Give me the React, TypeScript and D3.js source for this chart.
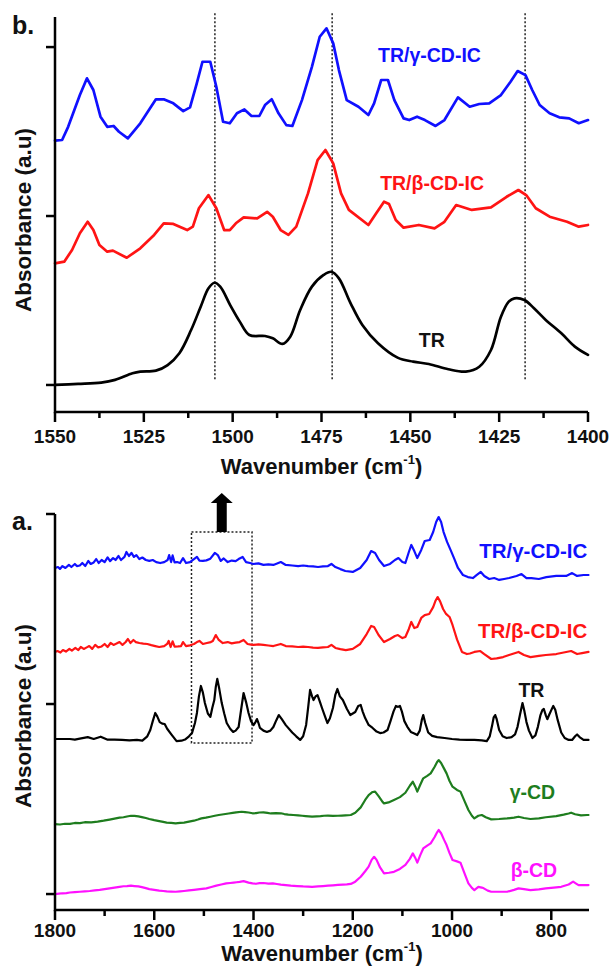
import React from 'react';
import * as d3 from 'd3';

const W = 611;
const H = 971;
const FONT = '"Liberation Sans", Arial, sans-serif';

// ---------- Panel b (1550-1400 cm-1) ----------
const bTicks = [1550, 1525, 1500, 1475, 1450, 1425, 1400];
const bMinor = [1537.5, 1512.5, 1487.5, 1462.5, 1437.5, 1412.5];
const bYTicks = [0, 1, 2];
const bDotted = [1505, 1472, 1417.7];

const bGamma: [number, number][] = [
  [1550, 1.446], [1548, 1.45], [1546.3, 1.528], [1543, 1.716], [1541, 1.815], [1539.2, 1.746],
  [1537.2, 1.588], [1535.3, 1.528], [1533.5, 1.533], [1532, 1.499], [1529.5, 1.46], [1526, 1.549],
  [1521.6, 1.691], [1519.4, 1.691], [1516.7, 1.667], [1513.9, 1.621], [1512, 1.643], [1510.1, 1.785],
  [1508.5, 1.913], [1506.3, 1.913], [1504.6, 1.765], [1502.7, 1.558], [1500.8, 1.549], [1498.8, 1.608],
  [1496.7, 1.631], [1494.7, 1.592], [1492.5, 1.592], [1490.9, 1.657], [1489, 1.691], [1487.1, 1.608],
  [1484.9, 1.538], [1483.2, 1.533], [1480.5, 1.686], [1477.7, 1.883], [1475.5, 2.061], [1473.6, 2.111],
  [1471.7, 2.022], [1470.1, 1.864], [1467.9, 1.686], [1464.6, 1.647], [1461.8, 1.598], [1460.2, 1.667],
  [1458.2, 1.805], [1456.3, 1.805], [1454.5, 1.686], [1451.9, 1.578], [1450.3, 1.568], [1448.1, 1.588],
  [1445.9, 1.568], [1442.9, 1.533], [1440.4, 1.568], [1436.6, 1.702], [1433.3, 1.647], [1430.6, 1.663],
  [1427.8, 1.667], [1424.5, 1.716], [1421.8, 1.795], [1419.8, 1.858], [1417.6, 1.834], [1415.7, 1.746],
  [1413.6, 1.657], [1410.8, 1.608], [1408.1, 1.584], [1405.3, 1.578], [1402.6, 1.549], [1400, 1.568],
];

const bBeta: [number, number][] = [
  [1550, 0.72], [1547.4, 0.73], [1545.2, 0.799], [1543, 0.898], [1540.8, 0.966], [1539.2, 0.917],
  [1537.5, 0.828], [1535.3, 0.789], [1533.7, 0.795], [1529.8, 0.753], [1526, 0.809], [1522.1, 0.888],
  [1519.4, 0.957], [1516.7, 0.953], [1512.8, 0.917], [1511.2, 0.937], [1509.5, 1.046], [1506.8, 1.124],
  [1504.6, 1.046], [1502.4, 0.917], [1500.8, 0.917], [1499.1, 0.957], [1496.9, 0.992], [1493.1, 0.986],
  [1490.3, 1.025], [1488.7, 0.996], [1486.5, 0.917], [1484.3, 0.888], [1482.1, 0.937], [1478.8, 1.134],
  [1476.1, 1.331], [1473.9, 1.391], [1471.7, 1.312], [1469.5, 1.134], [1467.3, 1.036], [1461.8, 0.947],
  [1459.6, 1.016], [1457.4, 1.085], [1456, 1.071], [1454.1, 0.976], [1451.9, 0.931], [1447.6, 0.947],
  [1443.2, 0.927], [1440.4, 0.966], [1437.1, 1.065], [1432.7, 1.036], [1427.3, 1.051], [1422.9, 1.114],
  [1419.6, 1.154], [1417.4, 1.124], [1414.7, 1.046], [1410.8, 0.996], [1405.9, 0.966], [1402.6, 0.937],
  [1400, 0.947],
];

const bTR: [number, number][] = [
  [1550, 0], [1543.5, 0.006], [1537, 0.014], [1533.1, 0.03], [1528.2, 0.069], [1526, 0.079],
  [1521.6, 0.085], [1518.3, 0.118], [1515, 0.188], [1511.7, 0.325], [1509, 0.463], [1506.8, 0.572],
  [1505.1, 0.605], [1503.5, 0.582], [1500.7, 0.473], [1498, 0.375], [1495.3, 0.296], [1490.9, 0.29],
  [1488.7, 0.276], [1486, 0.243], [1483.8, 0.286], [1481, 0.444], [1477.7, 0.582], [1474.4, 0.651],
  [1472.2, 0.67], [1470.1, 0.631], [1466.8, 0.483], [1463.5, 0.355], [1459.1, 0.247], [1453.6, 0.162],
  [1449.2, 0.138], [1444.8, 0.124], [1439.3, 0.093], [1434.4, 0.079], [1430.6, 0.108], [1427.3, 0.207],
  [1424.5, 0.404], [1422.3, 0.493], [1420.7, 0.513], [1417.9, 0.503], [1415.2, 0.454], [1411.9, 0.385],
  [1407.5, 0.306], [1403.7, 0.227], [1400, 0.178],
];

// ---------- Panel a (1800-725 cm-1) ----------
const aTicks = [1800, 1600, 1400, 1200, 1000, 800];
const aMinor = [1700, 1500, 1300, 1100, 900];
const aYTicks = [0, 1, 2];
const aBox = { from: 1525, to: 1403, top: 1.905, bottom: 0.795 };

const aGammaIC: [number, number][] = [
  [1800, 1.716], [1794, 1.721], [1790, 1.711], [1785, 1.726], [1779, 1.716], [1772, 1.732], [1767, 1.721],
  [1760, 1.737], [1756, 1.726], [1750, 1.729], [1745, 1.742], [1739, 1.726], [1733, 1.753], [1728, 1.737],
  [1722, 1.745], [1717, 1.763], [1712, 1.742], [1706, 1.758], [1700, 1.747], [1694, 1.772], [1689, 1.752],
  [1683, 1.768], [1678, 1.758], [1672, 1.779], [1667, 1.758], [1660, 1.774], [1656, 1.8], [1651, 1.779],
  [1646, 1.795], [1641, 1.774], [1636, 1.784], [1630, 1.763], [1624, 1.771], [1617, 1.758], [1610, 1.753],
  [1603, 1.758], [1596, 1.747], [1588, 1.742], [1580, 1.747], [1573, 1.758], [1570, 1.784], [1566, 1.747],
  [1563, 1.782], [1559, 1.745], [1554, 1.747], [1548, 1.742], [1542, 1.768], [1536, 1.742], [1528, 1.747],
  [1520, 1.763], [1514, 1.774], [1509, 1.755], [1502, 1.753], [1495, 1.756], [1487, 1.765], [1478, 1.795],
  [1472, 1.784], [1466, 1.753], [1460, 1.766], [1452, 1.747], [1444, 1.755], [1436, 1.752], [1430, 1.763],
  [1422, 1.774], [1415, 1.747], [1407, 1.742], [1400, 1.737], [1390, 1.74], [1380, 1.732], [1370, 1.735],
  [1360, 1.732], [1345, 1.747], [1335, 1.732], [1322, 1.729], [1310, 1.726], [1300, 1.729], [1290, 1.726],
  [1280, 1.724], [1270, 1.721], [1260, 1.724], [1250, 1.726], [1243, 1.737], [1235, 1.721], [1225, 1.71],
  [1215, 1.7], [1200, 1.695], [1185, 1.716], [1172, 1.758], [1163, 1.805], [1155, 1.795], [1147, 1.758],
  [1137, 1.726], [1125, 1.737], [1115, 1.758], [1108, 1.768], [1100, 1.747], [1094, 1.742], [1087, 1.8],
  [1082, 1.837], [1076, 1.805], [1070, 1.768], [1062, 1.811], [1055, 1.858], [1045, 1.863], [1038, 1.905],
  [1032, 1.958], [1027, 1.984], [1022, 1.958], [1017, 1.905], [1010, 1.853], [1003, 1.811], [996, 1.768],
  [988, 1.716], [978, 1.679], [968, 1.668], [958, 1.663], [950, 1.679], [942, 1.695], [935, 1.674],
  [925, 1.658], [915, 1.663], [905, 1.653], [895, 1.658], [885, 1.663], [870, 1.674], [860, 1.684],
  [850, 1.663], [840, 1.663], [825, 1.658], [810, 1.668], [790, 1.674], [770, 1.674], [758, 1.689],
  [748, 1.674], [735, 1.679], [725, 1.679],
];

const aBetaIC: [number, number][] = [
  [1800, 1.274], [1795, 1.279], [1789, 1.271], [1784, 1.284], [1778, 1.276], [1771, 1.29], [1766, 1.281],
  [1759, 1.295], [1753, 1.284], [1748, 1.3], [1742, 1.29], [1736, 1.298], [1731, 1.305], [1725, 1.29],
  [1719, 1.311], [1713, 1.298], [1706, 1.303], [1700, 1.316], [1694, 1.3], [1688, 1.321], [1682, 1.311],
  [1676, 1.318], [1670, 1.326], [1664, 1.311], [1658, 1.325], [1653, 1.342], [1648, 1.321], [1642, 1.337],
  [1637, 1.326], [1630, 1.321], [1622, 1.318], [1614, 1.316], [1606, 1.31], [1598, 1.305], [1590, 1.3],
  [1580, 1.305], [1574, 1.316], [1571, 1.332], [1567, 1.3], [1563, 1.33], [1559, 1.302], [1552, 1.303],
  [1546, 1.305], [1542, 1.326], [1536, 1.305], [1528, 1.309], [1520, 1.316], [1514, 1.326], [1509, 1.332],
  [1502, 1.316], [1494, 1.321], [1486, 1.326], [1482, 1.332], [1476, 1.363], [1470, 1.337], [1462, 1.321],
  [1452, 1.326], [1444, 1.319], [1436, 1.323], [1428, 1.326], [1420, 1.337], [1412, 1.316], [1405, 1.313],
  [1400, 1.311], [1390, 1.314], [1380, 1.311], [1370, 1.308], [1360, 1.305], [1345, 1.316], [1335, 1.305],
  [1322, 1.303], [1310, 1.3], [1300, 1.302], [1290, 1.3], [1280, 1.297], [1270, 1.295], [1260, 1.298],
  [1250, 1.3], [1243, 1.311], [1235, 1.295], [1225, 1.289], [1214, 1.284], [1200, 1.29], [1185, 1.316],
  [1172, 1.368], [1163, 1.411], [1157, 1.405], [1148, 1.363], [1137, 1.326], [1125, 1.342], [1115, 1.358],
  [1109, 1.363], [1100, 1.347], [1094, 1.353], [1087, 1.395], [1082, 1.432], [1076, 1.4], [1070, 1.405],
  [1062, 1.453], [1055, 1.468], [1046, 1.474], [1038, 1.51], [1033, 1.545], [1029, 1.563], [1024, 1.54],
  [1018, 1.5], [1012, 1.474], [1005, 1.458], [999, 1.416], [990, 1.34], [980, 1.274], [970, 1.263],
  [964, 1.266], [955, 1.274], [943, 1.279], [935, 1.263], [921, 1.237], [910, 1.24], [897, 1.247],
  [885, 1.258], [866, 1.274], [855, 1.258], [842, 1.247], [825, 1.253], [811, 1.258], [790, 1.263],
  [770, 1.274], [760, 1.279], [748, 1.263], [738, 1.268], [725, 1.274],
];

const aTR: [number, number][] = [
  [1800, 0.816], [1770, 0.816], [1760, 0.813], [1750, 0.818], [1734, 0.826], [1722, 0.816], [1708, 0.828],
  [1695, 0.813], [1680, 0.813], [1665, 0.811], [1650, 0.809], [1635, 0.811], [1624, 0.807], [1614, 0.83],
  [1608, 0.863], [1603, 0.91], [1598, 0.953], [1594, 0.935], [1589, 0.905], [1584, 0.897], [1579, 0.895],
  [1574, 0.87], [1566, 0.842], [1555, 0.805], [1545, 0.807], [1538, 0.813], [1530, 0.83], [1524, 0.847],
  [1518, 0.9], [1514, 0.953], [1510, 1.04], [1506, 1.095], [1502, 1.06], [1498, 1.005], [1492, 0.95],
  [1487, 0.932], [1483, 0.98], [1479, 1.021], [1476, 1.09], [1473, 1.132], [1469, 1.08], [1464, 1.005],
  [1459, 0.95], [1454, 0.9], [1447, 0.87], [1441, 0.853], [1436, 0.86], [1430, 0.879], [1425, 0.97],
  [1420, 1.058], [1415, 1.01], [1410, 0.953], [1405, 0.91], [1400, 0.889], [1396, 0.905], [1393, 0.921],
  [1390, 0.9], [1387, 0.874], [1380, 0.86], [1373, 0.853], [1366, 0.86], [1360, 0.879], [1354, 0.915],
  [1349, 0.942], [1343, 0.92], [1335, 0.889], [1322, 0.85], [1314, 0.83], [1306, 0.811], [1300, 0.83],
  [1294, 0.89], [1290, 0.98], [1286, 1.074], [1282, 1.04], [1279, 1.021], [1275, 1.04], [1271, 1.047],
  [1266, 1.01], [1262, 0.979], [1256, 0.935], [1251, 0.9], [1246, 0.925], [1240, 0.979], [1235, 1.05],
  [1231, 1.079], [1226, 1.04], [1220, 1.021], [1212, 0.975], [1205, 0.942], [1200, 0.95], [1195, 0.958],
  [1189, 0.99], [1184, 0.995], [1180, 0.96], [1175, 0.926], [1168, 0.89], [1160, 0.874], [1152, 0.855],
  [1145, 0.847], [1138, 0.85], [1130, 0.863], [1124, 0.91], [1118, 0.96], [1113, 0.99], [1109, 0.985],
  [1105, 0.99], [1101, 0.96], [1096, 0.91], [1090, 0.88], [1083, 0.853], [1076, 0.845], [1070, 0.837],
  [1065, 0.86], [1061, 0.915], [1058, 0.942], [1054, 0.9], [1048, 0.85], [1040, 0.832], [1030, 0.826],
  [1015, 0.821], [1000, 0.816], [985, 0.813], [970, 0.811], [955, 0.811], [940, 0.809], [930, 0.805],
  [924, 0.83], [919, 0.89], [916, 0.93], [913, 0.942], [910, 0.92], [905, 0.863], [898, 0.83], [890, 0.821],
  [880, 0.826], [873, 0.84], [868, 0.88], [863, 0.945], [858, 1.005], [854, 0.96], [850, 0.905], [845, 0.86],
  [838, 0.821], [832, 0.835], [827, 0.88], [822, 0.94], [818, 0.968], [815, 0.974], [811, 0.94], [808, 0.92],
  [804, 0.945], [800, 0.968], [796, 0.99], [792, 0.97], [787, 0.915], [780, 0.85], [773, 0.821], [765, 0.811],
  [758, 0.811], [752, 0.83], [748, 0.84], [743, 0.826], [735, 0.811], [725, 0.811],
];

const aGammaCD: [number, number][] = [
  [1800, 0.368], [1790, 0.366], [1780, 0.37], [1770, 0.369], [1760, 0.374], [1750, 0.373], [1740, 0.378],
  [1727, 0.377], [1714, 0.381], [1702, 0.386], [1690, 0.392], [1680, 0.397], [1670, 0.402], [1662, 0.404],
  [1655, 0.408], [1647, 0.412], [1640, 0.411], [1632, 0.409], [1625, 0.405], [1617, 0.4], [1610, 0.395],
  [1600, 0.389], [1590, 0.384], [1582, 0.38], [1575, 0.376], [1566, 0.374], [1557, 0.372], [1548, 0.374],
  [1540, 0.376], [1530, 0.381], [1520, 0.386], [1512, 0.392], [1505, 0.398], [1496, 0.402], [1487, 0.407],
  [1478, 0.412], [1470, 0.416], [1460, 0.42], [1450, 0.424], [1442, 0.427], [1435, 0.43], [1424, 0.433],
  [1417, 0.431], [1410, 0.429], [1402, 0.425], [1395, 0.426], [1388, 0.429], [1380, 0.43], [1372, 0.427],
  [1365, 0.424], [1355, 0.426], [1345, 0.425], [1338, 0.421], [1330, 0.418], [1320, 0.416], [1310, 0.414],
  [1302, 0.412], [1295, 0.41], [1282, 0.407], [1273, 0.409], [1265, 0.41], [1258, 0.412], [1250, 0.413],
  [1240, 0.411], [1230, 0.412], [1222, 0.413], [1215, 0.414], [1204, 0.416], [1195, 0.428], [1184, 0.456],
  [1175, 0.495], [1168, 0.521], [1160, 0.537], [1155, 0.539], [1148, 0.515], [1140, 0.485], [1137, 0.477],
  [1128, 0.482], [1117, 0.495], [1105, 0.51], [1094, 0.533], [1085, 0.57], [1079, 0.591], [1074, 0.565],
  [1070, 0.539], [1064, 0.575], [1058, 0.609], [1050, 0.622], [1043, 0.635], [1035, 0.67], [1030, 0.695],
  [1027, 0.705], [1022, 0.69], [1016, 0.66], [1011, 0.635], [1005, 0.595], [999, 0.565], [990, 0.548],
  [983, 0.539], [975, 0.49], [967, 0.442], [960, 0.412], [955, 0.398], [947, 0.412], [940, 0.416],
  [932, 0.404], [921, 0.393], [905, 0.395], [889, 0.398], [875, 0.402], [866, 0.407], [855, 0.4],
  [842, 0.395], [825, 0.398], [811, 0.404], [790, 0.41], [775, 0.418], [765, 0.424], [760, 0.428],
  [752, 0.42], [740, 0.414], [728, 0.416], [725, 0.416],
];

const aBetaCD: [number, number][] = [
  [1800, 0], [1792, 0.002], [1785, 0.004], [1777, 0.005], [1770, 0.008], [1760, 0.01], [1750, 0.012],
  [1740, 0.014], [1730, 0.016], [1720, 0.019], [1710, 0.022], [1700, 0.026], [1690, 0.03], [1680, 0.034],
  [1670, 0.038], [1662, 0.041], [1655, 0.042], [1647, 0.044], [1640, 0.042], [1632, 0.04], [1625, 0.036],
  [1617, 0.031], [1610, 0.026], [1600, 0.022], [1590, 0.018], [1582, 0.016], [1575, 0.014], [1566, 0.013],
  [1557, 0.012], [1548, 0.014], [1540, 0.016], [1530, 0.019], [1520, 0.022], [1508, 0.026], [1495, 0.03],
  [1485, 0.037], [1475, 0.044], [1465, 0.05], [1455, 0.056], [1447, 0.058], [1440, 0.06], [1434, 0.062],
  [1428, 0.064], [1420, 0.068], [1415, 0.064], [1410, 0.06], [1402, 0.056], [1395, 0.054], [1388, 0.057],
  [1380, 0.058], [1370, 0.055], [1361, 0.056], [1353, 0.053], [1345, 0.05], [1335, 0.047], [1325, 0.044],
  [1312, 0.042], [1300, 0.04], [1290, 0.039], [1282, 0.038], [1270, 0.04], [1260, 0.042], [1250, 0.044],
  [1240, 0.046], [1230, 0.048], [1220, 0.05], [1212, 0.051], [1204, 0.053], [1195, 0.065], [1184, 0.091],
  [1175, 0.12], [1168, 0.144], [1162, 0.18], [1157, 0.196], [1152, 0.18], [1145, 0.14], [1137, 0.109],
  [1127, 0.112], [1117, 0.117], [1105, 0.132], [1094, 0.153], [1085, 0.185], [1079, 0.214], [1074, 0.19],
  [1070, 0.165], [1064, 0.205], [1058, 0.24], [1050, 0.255], [1043, 0.267], [1035, 0.3], [1030, 0.325],
  [1027, 0.337], [1022, 0.32], [1016, 0.285], [1011, 0.258], [1005, 0.215], [999, 0.179], [990, 0.172],
  [983, 0.165], [975, 0.11], [967, 0.056], [960, 0.032], [955, 0.021], [947, 0.038], [940, 0.034],
  [936, 0.03], [928, 0.018], [921, 0.012], [905, 0.012], [889, 0.012], [875, 0.022], [866, 0.03],
  [855, 0.026], [842, 0.021], [825, 0.025], [811, 0.03], [795, 0.034], [780, 0.038], [765, 0.05],
  [756, 0.065], [750, 0.055], [745, 0.047], [735, 0.047], [725, 0.047],
];

const BLUE = '#1010ff';
const RED = '#ff1414';
const GREEN = '#1e7d1e';
const MAGENTA = '#ff10ff';
const BLACK = '#000000';

type Series = { data: [number, number][]; color: string; curve: d3.CurveFactory };

function Panel(props: {
  xDomain: [number, number];
  xRange: [number, number];
  yDomain: [number, number];
  yRange: [number, number];
  ticks: number[];
  minor: number[];
  yTicks: number[];
  series: Series[];
  strokeWidth: number;
  tickLabelY: number;
  titleY: number;
  yTitleCenter: number;
  letter: string;
  letterY: number;
  children?: (x: d3.ScaleLinear<number, number>, y: d3.ScaleLinear<number, number>) => React.ReactNode;
}) {
  const x = d3.scaleLinear().domain(props.xDomain).range(props.xRange);
  const y = d3.scaleLinear().domain(props.yDomain).range(props.yRange);
  const x0 = props.xRange[0];
  const x1 = props.xRange[1];
  const yBot = props.yRange[0];
  const yTop = props.yRange[1];
  return (
    <g>
      {props.children ? props.children(x, y) : null}
      {props.series.map((s, i) => {
        const line = d3
          .line<[number, number]>()
          .x((d) => x(d[0]))
          .y((d) => y(d[1]))
          .curve(s.curve);
        return (
          <path
            key={i}
            d={line(s.data) || ''}
            fill="none"
            stroke={s.color}
            strokeWidth={props.strokeWidth}
            strokeLinejoin="round"
            strokeLinecap="round"
          />
        );
      })}
      <path d={`M${x0},${yTop}V${yBot}H${x1}`} fill="none" stroke="#000" strokeWidth={2.5} />
      {props.yTicks.map((t) => (
        <line key={'yt' + t} x1={x0 - 9} x2={x0} y1={y(t)} y2={y(t)} stroke="#000" strokeWidth={2.5} />
      ))}
      {props.ticks.map((t) => (
        <g key={'xt' + t}>
          <line x1={x(t)} x2={x(t)} y1={yBot} y2={yBot + 10} stroke="#000" strokeWidth={2.5} />
          <text
            x={x(t)}
            y={props.tickLabelY}
            textAnchor="middle"
            fontFamily={FONT}
            fontWeight="bold"
            fontSize={19}
            fill="#111"
          >
            {t}
          </text>
        </g>
      ))}
      {props.minor.map((t) => (
        <line key={'mt' + t} x1={x(t)} x2={x(t)} y1={yBot} y2={yBot + 6} stroke="#000" strokeWidth={2.5} />
      ))}
      <text
        x={(x0 + x1) / 2}
        y={props.titleY}
        textAnchor="middle"
        fontFamily={FONT}
        fontWeight="bold"
        fontSize={22}
        fill="#111"
      >
        Wavenumber (cm
        <tspan fontSize={13} dy={-10}>-1</tspan>
        <tspan dy={10}>)</tspan>
      </text>
      <text
        transform={`translate(31,${props.yTitleCenter}) rotate(-90)`}
        textAnchor="middle"
        fontFamily={FONT}
        fontWeight="bold"
        fontSize={22.5}
        fill="#111"
      >
        Absorbance (a.u)
      </text>
      <text x={12} y={props.letterY} fontFamily={FONT} fontWeight="bold" fontSize={25} fill="#111">
        {props.letter}
      </text>
    </g>
  );
}

const labelStyle = { fontFamily: FONT, fontWeight: 'bold' as const, fontSize: 19.5 };
const labelStyleA = { fontFamily: FONT, fontWeight: 'bold' as const, fontSize: 20.5 };

export default function App() {
  const smooth = d3.curveCatmullRom.alpha(0.5);
  return (
    <svg
      width={W}
      height={H}
      viewBox={`0 0 ${W} ${H}`}
      style={{ position: 'absolute', left: 0, top: 0, background: '#fff' }}
    >
      <rect x={0} y={0} width={W} height={H} fill="#fff" />
      <Panel
        xDomain={[1550, 1400]}
        xRange={[55, 588]}
        yDomain={[-0.16, 2.178]}
        yRange={[412, 17]}
        ticks={bTicks}
        minor={bMinor}
        yTicks={bYTicks}
        series={[
          { data: bGamma, color: BLUE, curve: d3.curveLinear },
          { data: bBeta, color: RED, curve: d3.curveLinear },
          { data: bTR, color: BLACK, curve: smooth },
        ]}
        strokeWidth={2.7}
        tickLabelY={443}
        titleY={474}
        yTitleCenter={220}
        letter="b."
        letterY={34}
      >
        {(x, y) => (
          <g>
            {bDotted.map((w) => (
              <line
                key={w}
                x1={x(w)}
                x2={x(w)}
                y1={y(2.2)}
                y2={y(0.03)}
                stroke="#222"
                strokeWidth={1.5}
                strokeDasharray="2,2"
              />
            ))}
            <text x={x(1459.1)} y={y(1.911)} fill={BLUE} {...labelStyle}>TR/γ-CD-IC</text>
            <text x={x(1458.5)} y={y(1.154)} fill={RED} {...labelStyle}>TR/β-CD-IC</text>
            <text x={x(1447.6)} y={y(0.225)} fill="#111" {...labelStyle}>TR</text>
          </g>
        )}
      </Panel>
      <Panel
        xDomain={[1800, 724]}
        xRange={[55, 589]}
        yDomain={[-0.084, 2]}
        yRange={[910, 514]}
        ticks={aTicks}
        minor={aMinor}
        yTicks={aYTicks}
        series={[
          { data: aGammaIC, color: BLUE, curve: d3.curveLinear },
          { data: aBetaIC, color: RED, curve: d3.curveLinear },
          { data: aTR, color: BLACK, curve: d3.curveLinear },
          { data: aGammaCD, color: GREEN, curve: d3.curveLinear },
          { data: aBetaCD, color: MAGENTA, curve: d3.curveLinear },
        ]}
        strokeWidth={2.2}
        tickLabelY={937}
        titleY={961}
        yTitleCenter={716}
        letter="a."
        letterY={530}
      >
        {(x, y) => {
          const cx = (x(aBox.from) + x(aBox.to)) / 2;
          const top = y(aBox.top);
          return (
            <g>
              <rect
                x={x(aBox.from)}
                y={top}
                width={x(aBox.to) - x(aBox.from)}
                height={y(aBox.bottom) - top}
                fill="none"
                stroke="#222"
                strokeWidth={1.5}
                strokeDasharray="2,2"
              />
              <path
                d={`M${cx - 5},${top}V${top - 29}H${cx - 11}L${cx},${top - 39}L${cx + 11},${top - 29}H${cx + 5}V${top}Z`}
                fill="#000"
              />
              <text x={x(727.4)} y={y(1.768)} textAnchor="end" fill={BLUE} {...labelStyleA}>TR/γ-CD-IC</text>
              <text x={x(727.4)} y={y(1.347)} textAnchor="end" fill={RED} {...labelStyleA}>TR/β-CD-IC</text>
              <text x={x(840)} y={y(1.039)} textAnchor="middle" fill="#111" {...labelStyle}>TR</text>
              <text x={x(838)} y={y(0.5)} textAnchor="middle" fill={GREEN} {...labelStyle}>γ-CD</text>
              <text x={x(835)} y={y(0.089)} textAnchor="middle" fill={MAGENTA} {...labelStyle}>β-CD</text>
            </g>
          );
        }}
      </Panel>
    </svg>
  );
}
